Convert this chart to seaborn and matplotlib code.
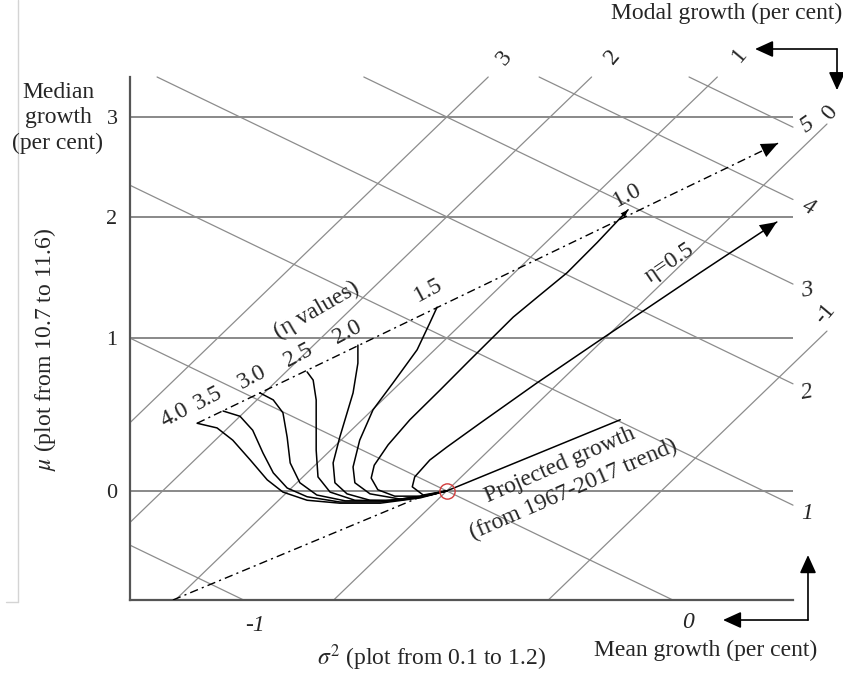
import numpy as np
import pandas as pd
import matplotlib
matplotlib.use("Agg")
import matplotlib.pyplot as plt
from matplotlib.lines import Line2D
import seaborn as sns

sns.set_style("white")
plt.rcParams["font.family"] = ["Liberation Serif", "DejaVu Serif"]
plt.rcParams["mathtext.fontset"] = "stix"

# ---------------- data (sigma^2, mu) ----------------
origin_sigma2 = 0.624
origin_mu = 10.887

# offset in mu for each growth rate (per cent)
growth_pct = [-1, 0, 1, 2, 3, 4, 5]
mu_offset = [-0.355, 0.0, 0.262, 0.470, 0.641, 0.786, 0.910]

median_growth = [0, 1, 2, 3]
mean_growth = [-1, 0, 1, 2, 3, 4, 5]
modal_growth = [-1, 0, 1, 2, 3]

eta_labels = ["4.0", "3.5", "3.0", "2.5", "2.0", "1.5", "1.0", "0.5"]

s2_eta40 = [0.211, 0.244, 0.270, 0.299, 0.327, 0.353, 0.393, 0.447, 0.514, 0.580, 0.624]
mu_eta40 = [11.003, 10.995, 10.974, 10.940, 10.906, 10.885, 10.871, 10.866, 10.866, 10.875, 10.887]
s2_eta35 = [0.254, 0.282, 0.303, 0.320, 0.337, 0.360, 0.393, 0.447, 0.514, 0.580, 0.624]
mu_eta35 = [11.024, 11.015, 10.991, 10.952, 10.918, 10.892, 10.877, 10.868, 10.868, 10.877, 10.887]
s2_eta30 = [0.315, 0.337, 0.353, 0.360, 0.365, 0.381, 0.409, 0.456, 0.522, 0.580, 0.624]
mu_eta30 = [11.055, 11.043, 11.021, 10.979, 10.935, 10.901, 10.880, 10.870, 10.870, 10.877, 10.887]
s2_eta25 = [0.393, 0.403, 0.408, 0.408, 0.411, 0.431, 0.472, 0.530, 0.588, 0.624]
mu_eta25 = [11.091, 11.077, 11.043, 10.957, 10.911, 10.885, 10.871, 10.870, 10.878, 10.887]
s2_eta20 = [0.477, 0.477, 0.469, 0.447, 0.436, 0.439, 0.459, 0.497, 0.547, 0.596, 0.624]
mu_eta20 = [11.137, 11.106, 11.055, 10.979, 10.935, 10.901, 10.882, 10.871, 10.871, 10.880, 10.887]
s2_eta15 = [0.608, 0.596, 0.575, 0.535, 0.502, 0.480, 0.469, 0.472, 0.497, 0.547, 0.596, 0.624]
mu_eta15 = [11.202, 11.175, 11.129, 11.072, 11.026, 10.974, 10.928, 10.901, 10.882, 10.873, 10.880, 10.887]
s2_eta10 = [0.924, 0.873, 0.823, 0.776, 0.734, 0.662, 0.613, 0.563, 0.527, 0.504, 0.499, 0.510, 0.538, 0.580, 0.624]
mu_eta10 = [11.369, 11.313, 11.261, 11.221, 11.185, 11.111, 11.060, 11.009, 10.966, 10.931, 10.909, 10.889, 10.878, 10.878, 10.887]
s2_eta05 = [1.170, 1.043, 0.878, 0.773, 0.679, 0.624, 0.596, 0.571, 0.567, 0.585, 0.624]
mu_eta05 = [11.348, 11.261, 11.146, 11.072, 11.003, 10.962, 10.940, 10.911, 10.894, 10.880, 10.887]

eta_top_s2 = [0.211, 1.172]          # dash-dot line through curve tops
eta_top_mu = [11.003, 11.483]
trend_s2 = [0.171, 0.588]            # lower dash-dot line
trend_mu = [10.700, 10.880]
projected_s2 = [0.624, 0.911]        # projected growth
projected_mu = [10.887, 11.009]

# ---------------- figure ----------------
fig = plt.figure(figsize=(8.43, 6.75), dpi=100)
ax = fig.add_axes([130 / 843, 75 / 675, 663 / 843, 523 / 675])
X0, X1 = 0.1, 1.1968
Y0, Y1 = 10.7, 11.5966
ax.set_xlim(X0, X1)
ax.set_ylim(Y0, Y1)

for s in ["top", "right"]:
    ax.spines[s].set_visible(False)
for s in ["left", "bottom"]:
    ax.spines[s].set_color("#555555")
    ax.spines[s].set_linewidth(1.6)

off = dict(zip(growth_pct, mu_offset))
median_mu = [origin_mu + off[g] for g in median_growth]
ax.set_xticks([])
ax.set_yticks(median_mu, labels=[str(g) for g in median_growth])
ax.tick_params(axis="y", length=0, pad=9, labelsize=16)


def clip_line(a, b, x0, x1, y0, y1):
    """segment of mu = a + b*s2 inside the box"""
    xa, xb = (y0 - a) / b, (y1 - a) / b
    lo = max(x0, min(xa, xb))
    hi = min(x1, max(xa, xb))
    return [lo, hi], [a + b * lo, a + b * hi]


grey = "#8c8c8c"
# median lines
for m in median_mu:
    ax.plot([X0, X1], [m, m], color="#808080", lw=1.3, zorder=1)
# mean lines: mu + s2/2 = const
c0 = origin_mu + 0.5 * origin_sigma2
for g in mean_growth:
    xs, ys = clip_line(c0 + off[g], -0.5, X0, X1, Y0, Y1)
    ax.plot(xs, ys, color=grey, lw=0.9, zorder=1, clip_on=False)
# modal lines: mu - s2 = const
d0 = origin_mu - origin_sigma2
for g in modal_growth:
    xs, ys = clip_line(d0 + off[g], 1.0, X0, 1.253, Y0, Y1)
    ax.plot(xs, ys, color=grey, lw=0.9, zorder=1, clip_on=False)

# eta curves
curves = [(s2_eta40, mu_eta40), (s2_eta35, mu_eta35), (s2_eta30, mu_eta30),
          (s2_eta25, mu_eta25), (s2_eta20, mu_eta20), (s2_eta15, mu_eta15),
          (s2_eta10, mu_eta10), (s2_eta05, mu_eta05)]
rows = []
for lab, (xs, ys) in zip(eta_labels, curves):
    for i, (x, y) in enumerate(zip(xs, ys)):
        rows.append({"eta": lab, "order": i, "sigma2": x, "mu": y})
df = pd.DataFrame(rows)
sns.lineplot(data=df, x="sigma2", y="mu", units="eta", estimator=None, sort=False,
             color="black", lw=1.1, ax=ax, legend=False, zorder=3)
ax.set_xlabel("")
ax.set_ylabel("")

dashdot = (0, (6, 3, 1.5, 3))
ax.plot(eta_top_s2, eta_top_mu, color="black", lw=1.0, linestyle=dashdot, zorder=3)
ax.plot(trend_s2, trend_mu, color="black", lw=1.0, linestyle=dashdot, zorder=3)
ax.plot(projected_s2, projected_mu, color="black", lw=1.1, zorder=3)


def head(xy_from, xy_to, hl=0.6, hw=0.26, ms=20):
    ax.annotate("", xy=xy_to, xytext=xy_from,
                arrowprops=dict(arrowstyle=f"-|>,head_length={hl},head_width={hw}",
                                color="black", lw=0, shrinkA=0, shrinkB=0,
                                mutation_scale=ms),
                annotation_clip=False, zorder=4)


head((s2_eta05[1], mu_eta05[1]), (s2_eta05[0], mu_eta05[0]))
head((eta_top_s2[0], eta_top_mu[0]), (eta_top_s2[1], eta_top_mu[1]))
head((s2_eta10[1], mu_eta10[1]), (s2_eta10[0], mu_eta10[0]), hl=0.4, hw=0.15, ms=14)

ax.plot([origin_sigma2], [origin_mu], marker="o", ms=11, mfc="none",
        mec="#d23c3c", mew=1.0, zorder=5)

# labels of eta curves
tk = dict(ha="center", va="center", rotation_mode="anchor", fontsize=17)
eta_lab_pos = [(0.174, 11.017), (0.229, 11.046), (0.302, 11.081), (0.378, 11.120),
               (0.459, 11.159), (0.593, 11.231), (0.922, 11.394)]
for lab, (x, y) in zip(eta_labels[:7], eta_lab_pos):
    ax.text(x, y, lab, rotation=28, **tk)
ax.text(0.409, 11.197, "(η values)", rotation=30, **tk)
ax.text(0.993, 11.278, "η=0.5", rotation=34, **tk)
ax.text(0.811, 10.931, "Projected growth", rotation=23.5, **tk)
ax.text(0.833, 10.889, "(from 1967-2017 trend)", rotation=23.5, **tk)

# growth labels
mean_lab_pos = [(0.307, 10.657), (1.023, 10.662), (1.220, 10.849), (1.220, 11.055),
                (1.220, 11.231), (1.222, 11.372), (1.220, 11.514)]
mean_lab_rot = [0, 0, 0, 10, 10, -25, 35]
for g, (x, y), r in zip(mean_growth, mean_lab_pos, mean_lab_rot):
    ax.text(x, y, str(g), style="italic", rotation=r, **tk)
modal_lab_pos = [(1.250, 11.190), (1.258, 11.535), (1.109, 11.634), (0.899, 11.631),
                 (0.720, 11.629)]
for g, (x, y) in zip(modal_growth, modal_lab_pos):
    ax.text(x, y, str(g), rotation=50, **tk)

# corner arrows
arrow_kw = dict(arrowstyle="-|>,head_length=0.55,head_width=0.25", color="black",
                lw=1.2, shrinkA=0, shrinkB=0, mutation_scale=20)
ax.annotate("", xy=(1.134, 11.6446), xytext=(1.2696, 11.6446), arrowprops=arrow_kw,
            annotation_clip=False)
ax.annotate("", xy=(1.2696, 11.574), xytext=(1.2696, 11.6446), arrowprops=arrow_kw,
            annotation_clip=False)
ax.annotate("", xy=(1.2216, 10.777), xytext=(1.2216, 10.6657), arrowprops=arrow_kw,
            annotation_clip=False)
ax.annotate("", xy=(1.081, 10.6657), xytext=(1.2216, 10.6657), arrowprops=arrow_kw,
            annotation_clip=False)

# axis titles
fig.text(58 / 843, 1 - 118 / 675, "Median\ngrowth\n(per cent)", ha="center",
         va="center", fontsize=17, linespacing=1.25)
fig.text(45 / 843, 1 - 349 / 675, r"$\mu$ (plot from 10.7 to 11.6)", rotation=90,
         ha="center", va="center", fontsize=17)
fig.text(432 / 843, 1 - 658 / 675, r"$\sigma^2$ (plot from 0.1 to 1.2)", ha="center",
         va="center", fontsize=17)
fig.text(706 / 843, 1 - 650 / 675, "Mean growth (per cent)", ha="center",
         va="center", fontsize=17)
fig.text(842 / 843, 1 - 13 / 675, "Modal growth (per cent)", ha="right",
         va="center", fontsize=17)

# faint page border at left
fig.add_artist(Line2D([18 / 843, 18 / 843], [1, 1 - 602 / 675], transform=fig.transFigure,
                      color="#d4d4d4", lw=1))
fig.add_artist(Line2D([6 / 843, 18 / 843], [1 - 602 / 675, 1 - 602 / 675],
                      transform=fig.transFigure, color="#d4d4d4", lw=1))

fig.savefig("out.png", dpi=100)
